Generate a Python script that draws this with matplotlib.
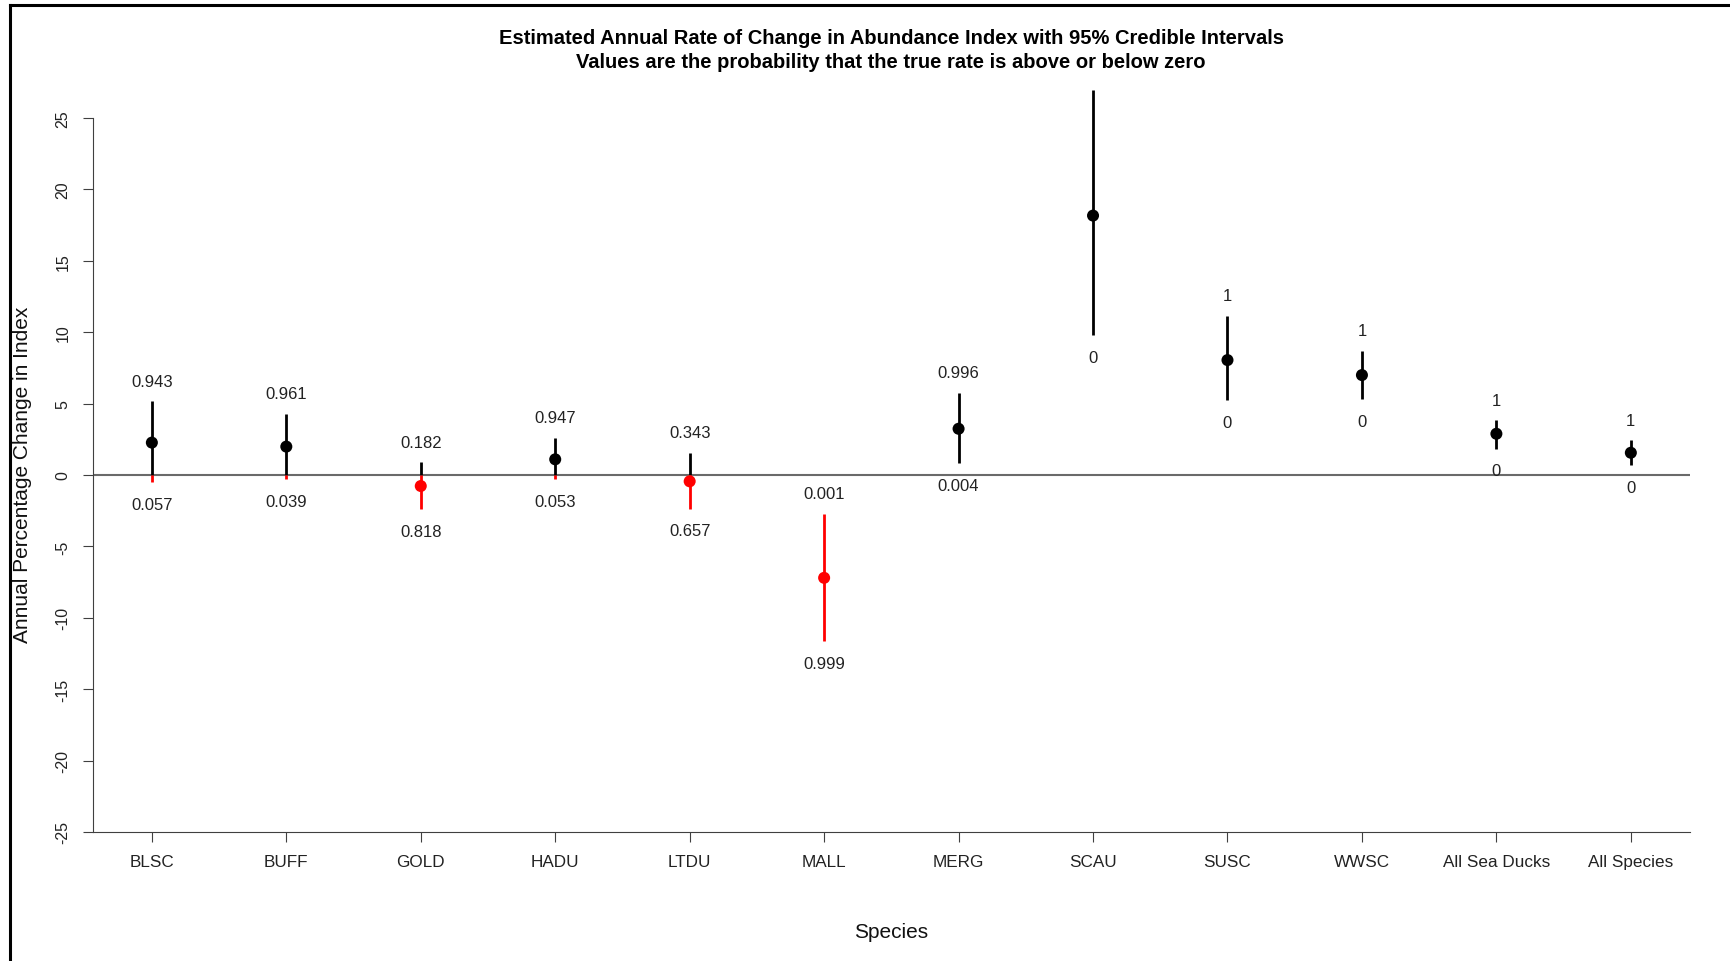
import numpy as np
import matplotlib
matplotlib.use('Agg')
import matplotlib.pyplot as plt
from matplotlib.lines import Line2D

plt.rcParams['font.family'] = ['Liberation Sans', 'DejaVu Sans']
plt.rcParams['axes.unicode_minus'] = False

species = ['BLSC', 'BUFF', 'GOLD', 'HADU', 'LTDU', 'MALL', 'MERG', 'SCAU',
           'SUSC', 'WWSC', 'All Sea Ducks', 'All Species']
estimate = [2.27, 1.99, -0.77, 1.10, -0.44, -7.2, 3.24, 18.17, 8.05, 7.0, 2.89, 1.56]
lower = [-0.5, -0.3, -2.4, -0.3, -2.35, -11.65, 0.85, 9.8, 5.23, 5.3, 1.84, 0.68]
upper = [5.18, 4.30, 0.91, 2.62, 1.55, -2.72, 5.76, 27.0, 11.17, 8.72, 3.85, 2.45]
prob_above = ['0.943', '0.961', '0.182', '0.947', '0.343', '0.001', '0.996',
              '1', '1', '1', '1', '1']
prob_below = ['0.057', '0.039', '0.818', '0.053', '0.657', '0.999', '0.004',
              '0', '0', '0', '0', '0']

title_lines = ['Estimated Annual Rate of Change in Abundance Index with 95% Credible Intervals',
               'Values are the probability that the true rate is above or below zero']

W, H = 1730, 962
fig = plt.figure(figsize=(W / 100, H / 100), dpi=100)
ax = fig.add_axes([92.7 / W, 1 - 833 / H, (1690 - 92.7) / W, (833 - 90.5) / H])

x = np.arange(1, len(species) + 1)
ymin, ymax = -25, 27
ax.set_xlim(0.56, 12.44)
ax.set_ylim(ymin, ymax)

ax.axhline(0, color='#6a6a6a', lw=1.5, zorder=1)

# whisker parts above zero black, below zero red
for xi, lo, hi in zip(x, lower, upper):
    if hi > 0:
        ax.vlines(xi, max(lo, 0), hi, color='black', lw=2, zorder=2)
    if lo < 0:
        ax.vlines(xi, lo, min(hi, 0), color='red', lw=2, zorder=2)

colors = ['red' if e < 0 else 'black' for e in estimate]
ax.scatter(x, estimate, s=75, c=colors, zorder=3, linewidths=0)

# labels falling outside the plot region are not shown (as in the original)
for xi, lo, hi, pa, pb in zip(x, lower, upper, prob_above, prob_below):
    if hi + 1.4 < ymax:
        ax.text(xi, hi + 1.4, pa, ha='center', va='center', fontsize=12,
                color='#222222')
    if lo - 1.55 > ymin:
        ax.text(xi, lo - 1.55, pb, ha='center', va='center', fontsize=12,
                color='#222222')

ax.set_xticks(x)
ax.set_xticklabels(species)
ax.set_yticks(np.arange(-25, 26, 5))
ax.tick_params(axis='y', labelrotation=90, length=7, pad=9, labelsize=11.5,
               color='#404040', labelcolor='#222222')
ax.tick_params(axis='x', length=7, pad=9, labelsize=12.3,
               color='#404040', labelcolor='#222222')
for lab in ax.get_yticklabels():
    lab.set_va('center')

ax.spines['top'].set_visible(False)
ax.spines['right'].set_visible(False)
ax.spines['left'].set_bounds(-25, 25)
ax.spines['left'].set_color('#404040')
ax.spines['bottom'].set_color('#404040')

fig.text(891 / W, 1 - 38.6 / H, title_lines[0], ha='center', va='center',
         fontsize=14.5, fontweight='bold')
fig.text(891 / W, 1 - 63 / H, title_lines[1], ha='center', va='center',
         fontsize=14.5, fontweight='bold')
fig.text(23 / W, 1 - 474.5 / H, 'Annual Percentage Change in Index', rotation=90,
         ha='center', va='center', fontsize=15, color='#111111')
fig.text(891 / W, 1 - 932 / H, 'Species', ha='center', va='center', fontsize=15,
         color='#111111')

# outer frame (left and top edges)
fig.add_artist(Line2D([10 / W, 10 / W], [0, 1 - 6 / H], transform=fig.transFigure,
                      color='black', lw=2.2))
fig.add_artist(Line2D([10 / W, 1], [1 - 6 / H, 1 - 6 / H], transform=fig.transFigure,
                      color='black', lw=2.2))

plt.savefig('out.png', dpi=100)
